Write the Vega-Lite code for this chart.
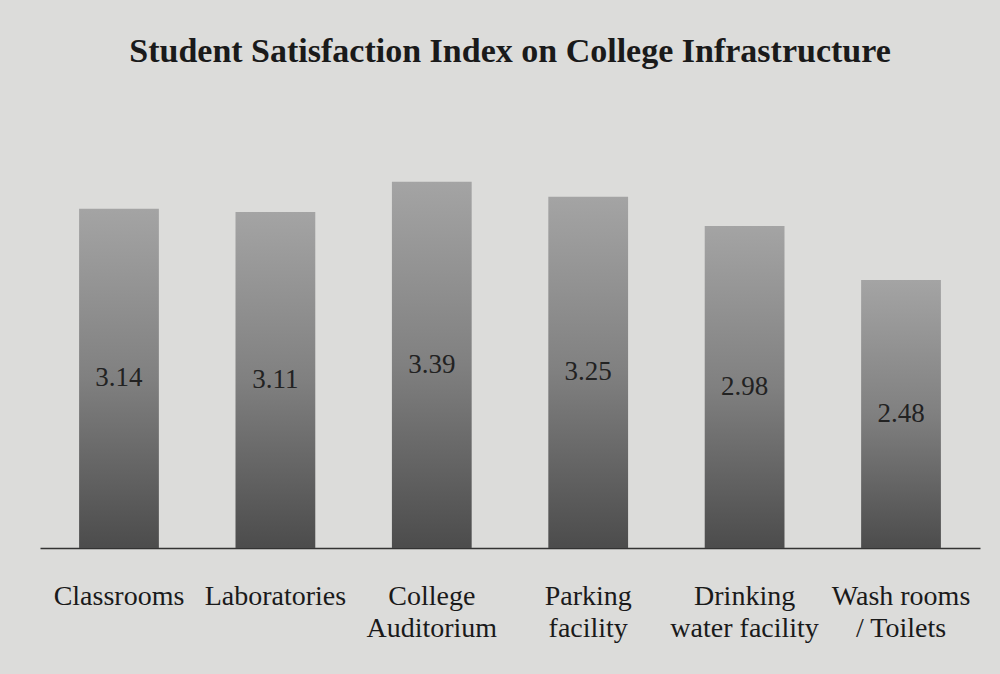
{
  "$schema": "https://vega.github.io/schema/vega-lite/v6.json",
  "autosize": "none",
  "width": 940,
  "height": 389,
  "padding": {"left": 40, "top": 159, "right": 20, "bottom": 126},
  "background": "#dcdcda",
  "title": {
    "text": "Student Satisfaction Index on College  Infrastructure",
    "font": "Liberation Serif",
    "fontSize": 34,
    "fontWeight": "bold",
    "color": "#1a1a1a",
    "anchor": "middle",
    "offset": 90
  },
  "config": {"view": {"stroke": null}},
  "data": {
    "values": [
      {"category": "Classrooms", "value": 3.14},
      {"category": "Laboratories", "value": 3.11},
      {"category": "College Auditorium", "value": 3.39},
      {"category": "Parking facility", "value": 3.25},
      {"category": "Drinking water facility", "value": 2.98},
      {"category": "Wash rooms / Toilets", "value": 2.48}
    ]
  },
  "encoding": {
    "x": {
      "field": "category",
      "type": "nominal",
      "sort": null,
      "scale": {"paddingInner": 0.49, "paddingOuter": 0.25},
      "axis": {
        "title": null,
        "labelAngle": 0,
        "labelFont": "Liberation Serif",
        "labelFontSize": 28,
        "labelColor": "#1a1a1a",
        "labelPadding": 34,
        "labelLineHeight": 32,
        "labelOverlap": false,
        "ticks": false,
        "domainColor": "#333333",
        "domainWidth": 1.5,
        "labelExpr": "datum.label == 'College Auditorium' ? ['College','Auditorium'] : datum.label == 'Parking facility' ? ['Parking','facility'] : datum.label == 'Drinking water facility' ? ['Drinking','water facility'] : datum.label == 'Wash rooms / Toilets' ? ['Wash rooms','/ Toilets'] : datum.label"
      }
    }
  },
  "layer": [
    {
      "mark": {
        "type": "bar",
        "color": {
          "gradient": "linear",
          "x1": 0, "y1": 0, "x2": 0, "y2": 1,
          "stops": [
            {"offset": 0, "color": "#a4a4a4"},
            {"offset": 0.5, "color": "#808080"},
            {"offset": 1, "color": "#4c4c4c"}
          ]
        }
      },
      "encoding": {
        "y": {"field": "value", "type": "quantitative", "scale": {"domain": [0, 3.6]}, "axis": null}
      }
    },
    {
      "transform": [{"calculate": "datum.value / 2", "as": "mid"}],
      "mark": {"type": "text", "font": "Liberation Serif", "fontSize": 27, "color": "#222222"},
      "encoding": {
        "y": {"field": "mid", "type": "quantitative", "scale": {"domain": [0, 3.6]}, "axis": null},
        "text": {"field": "value", "type": "quantitative", "format": ".2f"}
      }
    }
  ]
}
